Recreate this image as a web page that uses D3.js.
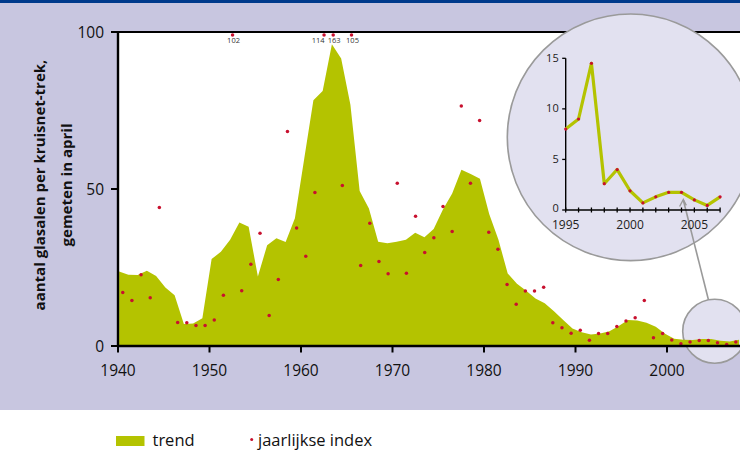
<!DOCTYPE html>
<html>
<head>
<meta charset="utf-8">
<script src="https://cdn.jsdelivr.net/npm/d3@7"></script>
<style>
  body { margin: 0; background: #fff; }
  svg { display: block; font-family: "Open Sans", "Noto Sans", sans-serif; }
</style>
</head>
<body>
<script>
// ---- data ----
const years = d3.range(1940, 2008);
const trend = [23.7,22.7,22.6,24.0,22.3,18.6,16.2,7.0,7.2,8.8,
  27.7,30.0,33.8,39.3,38.0,22.1,32.1,34.3,33.1,40.7,
  59.5,78.3,81.2,96.1,91.6,76.8,49.4,43.8,33.2,32.7,
  33.2,33.8,36.1,34.6,37.3,43.5,48.6,56.1,54.8,53.3,
  42.0,33.8,23.1,19.8,17.6,15.1,13.6,11.1,8.3,5.6,
  4.4,3.7,4.0,4.7,6.4,8.3,8.1,7.4,6.1,3.9,
  2.3,2.0,1.9,2.2,2.2,1.7,1.4,2.0];
const annual = [17.0,14.5,22.7,15.4,44.1,null,7.5,7.4,6.5,6.5,
  8.3,16.2,102,17.6,26.0,35.9,9.7,21.2,68.3,37.6,
  28.6,48.9,114,163,51.1,105,25.6,39.1,26.9,23.0,
  51.8,23.2,41.3,29.8,34.5,44.4,36.5,76.4,51.8,71.8,
  36.2,30.8,19.6,13.3,17.5,17.5,18.7,7.4,5.8,4.1,
  5.0,1.8,4.0,4.0,6.2,8.0,9.0,14.5,2.6,4.0,
  1.9,0.7,1.3,1.75,1.75,1.0,0.45,1.3];
const xTicks = [1940,1950,1960,1970,1980,1990,2000];
const yTicks = [0,50,100];
const insetYears = d3.range(1995, 2008);
const insetXTickLabels = [1995,2000,2005];
const insetYTicks = [0,5,10,15];
const yTitle = ["aantal glasalen per kruisnet-trek,", "gemeten in april"];
const legendLabels = ["trend", "jaarlijkse index"];

// ---- styles ----
const GREEN = "#b4c300", RED = "#c8102e", LAV = "#c8c6e0", LIGHT = "#e2e1f0", GREY = "#9a9a9a";

const W = 740, H = 450;
const svg = d3.select("body").append("svg").attr("width", W).attr("height", H);

// backgrounds
svg.append("rect").attr("x",0).attr("y",0).attr("width",W).attr("height",410).attr("fill",LAV);
svg.append("rect").attr("x",0).attr("y",0).attr("width",W).attr("height",3).attr("fill","#003a8c");

const x = d3.scaleLinear().domain([1940, 2008]).range([118, 740.2]);
const y = d3.scaleLinear().domain([0, 100]).range([346, 32]);
// trend vertices are drawn on a slightly stretched year grid in the source
const xT = d3.scaleLinear().domain([1940, 2008]).range([x(1940.12), x(1940.12 + 68 * 1.0112)]);

svg.append("rect").attr("x", x(1940)).attr("y", y(100)).attr("width", W - x(1940)).attr("height", y(0) - y(100)).attr("fill", "#fff");

svg.append("clipPath").attr("id","plotclip").append("rect")
  .attr("x", x(1940)).attr("y", y(100)).attr("width", W - x(1940)).attr("height", y(0) - y(100));

// circles & connector
const big = {cx: 630.6, cy: 137.3, r: 123.3};
const small = {cx: 714.7, cy: 331.3, r: 32};
svg.append("circle").attr("cx", small.cx).attr("cy", small.cy).attr("r", small.r)
  .attr("fill", LIGHT).attr("stroke", GREY).attr("stroke-width", 1.6);

// trend area
const data = years.map((yr, i) => ({yr, t: trend[i], a: annual[i]}));
svg.append("path").datum(data)
  .attr("clip-path","url(#plotclip)")
  .attr("fill", GREEN)
  .attr("d", d3.area().x(d => xT(d.yr)).y0(y(0)).y1(d => y(d.t)));

// annual dots
const dots = data.filter(d => d.a !== null);
svg.append("g").selectAll("circle").data(dots).join("circle")
  .attr("cx", d => x(d.yr + 0.52))
  .attr("cy", d => d.a > 100 ? y(100) + 3 : y(d.a))
  .attr("r", 1.75).attr("fill", RED);
const over = dots.filter(d => d.a > 100);
const overSet = new Set(over.map(d => d.yr));
svg.append("g").selectAll("text").data(over).join("text")
  .attr("x", d => overSet.has(d.yr + 1) ? x(d.yr + 0.52) + 0.5 : x(d.yr + 0.52) + 1)
  .attr("y", y(100) + 10.5)
  .attr("text-anchor", d => overSet.has(d.yr + 1) ? "end" : "middle")
  .attr("font-size", 7.5).attr("fill","#333")
  .text(d => d.a);

// axes
const gx = svg.append("g").attr("transform", `translate(0,${y(0)})`);
gx.append("line").attr("x1", x(1940) - 1).attr("x2", W).attr("y1",0).attr("y2",0).attr("stroke","#000").attr("stroke-width",2.4);
gx.selectAll("line.t").data(xTicks).join("line").attr("class","t")
  .attr("x1", d => x(d)).attr("x2", d => x(d)).attr("y1", 0).attr("y2", 6.5)
  .attr("stroke","#000").attr("stroke-width",2);
gx.selectAll("text").data(xTicks).join("text")
  .attr("x", d => x(d)).attr("y", 30).attr("text-anchor","middle")
  .attr("font-size", 15.5).attr("fill","#111").text(d => d);

const gy = svg.append("g").attr("transform", `translate(${x(1940)},0)`);
gy.append("line").attr("x1",0).attr("x2",0).attr("y1", y(100) - 1).attr("y2", y(0) + 1).attr("stroke","#000").attr("stroke-width",2.4);
gy.selectAll("line.t").data(yTicks).join("line").attr("class","t")
  .attr("x1", -7).attr("x2", 0).attr("y1", d => y(d)).attr("y2", d => y(d))
  .attr("stroke","#000").attr("stroke-width",2);
gy.selectAll("text").data(yTicks).join("text")
  .attr("x", -14).attr("y", d => y(d)).attr("dy","0.36em").attr("text-anchor","end")
  .attr("font-size", 15.5).attr("fill","#111").text(d => d);

// top frame line
svg.append("line").attr("x1", x(1940) - 1).attr("x2", W).attr("y1", y(100)).attr("y2", y(100))
  .attr("stroke","#000").attr("stroke-width",2);

// big circle (inset)
svg.append("circle").attr("cx", big.cx).attr("cy", big.cy).attr("r", big.r)
  .attr("fill", LIGHT).attr("stroke", GREY).attr("stroke-width", 1.6);
svg.append("line").attr("x1", 683.3).attr("y1", 200).attr("x2", 708.5).attr("y2", 300)
  .attr("stroke", GREY).attr("stroke-width", 1.6);
svg.append("path").attr("d", "M679.6,206.5 L683.3,199.5 L686.3,205.4")
  .attr("fill","none").attr("stroke", GREY).attr("stroke-width", 1.4);

// inset chart
const xi = d3.scaleLinear().domain([1995, 2007]).range([565.7, 720.1]);
const yi = d3.scaleLinear().domain([0, 15]).range([210, 58.3]);
const gi = svg.append("g");
gi.append("line").attr("x1", xi(1995)).attr("x2", xi(1995)).attr("y1", yi(15)).attr("y2", yi(0))
  .attr("stroke","#000").attr("stroke-width",1.4);
gi.append("line").attr("x1", xi(1995)).attr("x2", xi(2007)).attr("y1", yi(0)).attr("y2", yi(0))
  .attr("stroke","#000").attr("stroke-width",1.4);
gi.selectAll("line.yt").data(insetYTicks).join("line").attr("class","yt")
  .attr("x1", xi(1995) - 3.5).attr("x2", xi(1995)).attr("y1", d => yi(d)).attr("y2", d => yi(d))
  .attr("stroke","#000").attr("stroke-width",1.3);
gi.selectAll("line.xt").data(insetYears).join("line").attr("class","xt")
  .attr("x1", d => xi(d)).attr("x2", d => xi(d)).attr("y1", yi(0) - 2.5).attr("y2", yi(0) + 2.5)
  .attr("stroke","#000").attr("stroke-width",1.3);
gi.selectAll("text.yl").data(insetYTicks).join("text").attr("class","yl")
  .attr("x", xi(1995) - 7).attr("y", d => yi(d)).attr("dy", d => d === 0 ? "0.2em" : "0.33em").attr("text-anchor","end")
  .attr("font-size", 11).attr("fill","#222").text(d => d);
gi.selectAll("text.xl").data(insetXTickLabels).join("text").attr("class","xl")
  .attr("x", d => xi(d)).attr("y", yi(0) + 19).attr("text-anchor","middle")
  .attr("font-size", 12).attr("fill","#222").text(d => d);
const insetData = insetYears.map(yr => ({yr, v: annual[yr - 1940]}));
gi.append("path").datum(insetData)
  .attr("fill","none").attr("stroke", GREEN).attr("stroke-width", 3.2).attr("stroke-linejoin","round")
  .attr("d", d3.line().x(d => xi(d.yr)).y(d => yi(d.v)));
gi.selectAll("circle").data(insetData).join("circle")
  .attr("cx", d => xi(d.yr)).attr("cy", d => yi(d.v)).attr("r", 1.6).attr("fill", RED);

// y title
const t = svg.append("text").attr("transform", "translate(0,185) rotate(-90)")
  .attr("text-anchor","middle").attr("font-size", 15).attr("font-weight","bold").attr("fill","#111");
t.append("tspan").attr("x", 0).attr("y", 45).text(yTitle[0]);
t.append("tspan").attr("x", 0).attr("y", 72).text(yTitle[1]);

// legend
svg.append("rect").attr("x",116).attr("y",436).attr("width",28.5).attr("height",10).attr("fill",GREEN);
svg.append("text").attr("x",152.5).attr("y",446).attr("font-size",16.5).attr("fill","#111").text(legendLabels[0]);
svg.append("circle").attr("cx",251.7).attr("cy",439.5).attr("r",1.5).attr("fill",RED);
svg.append("text").attr("x",258).attr("y",446).attr("font-size",16.5).attr("fill","#111").text(legendLabels[1]);
</script>
</body>
</html>
